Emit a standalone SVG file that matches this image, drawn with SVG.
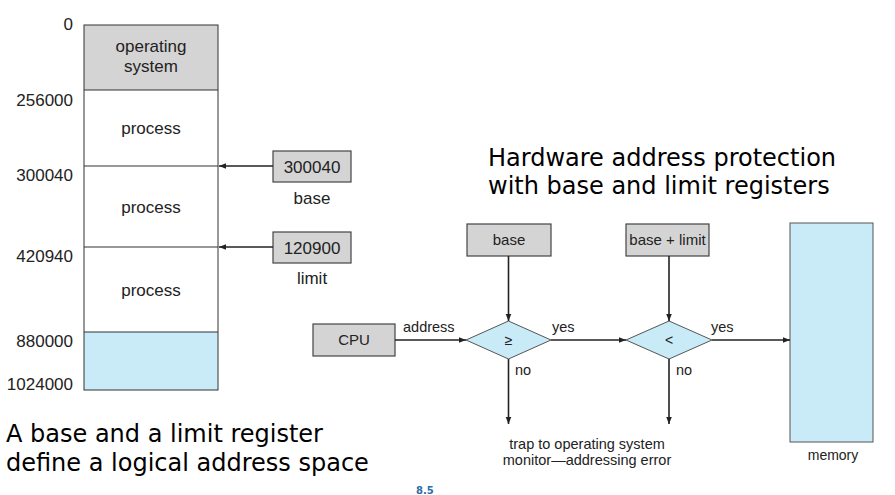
<svg xmlns="http://www.w3.org/2000/svg" width="895" height="495" viewBox="0 0 895 495">
<defs>
<marker id="ah" viewBox="0 0 10 10" refX="10" refY="5" markerWidth="7" markerHeight="7" markerUnits="userSpaceOnUse" orient="auto"><path d="M0,1 L10,5 L0,9 z" fill="#222"/></marker>
<style>
.t{font-family:"Liberation Sans",Arial,sans-serif;fill:#222}
.big{font-family:"DejaVu Sans",Verdana,sans-serif;font-size:24px;fill:#000}
.reg{fill:#d4d4d4;stroke:#444;stroke-width:1.2}
.blue{fill:#c9ebf7;stroke:#555;stroke-width:1}
.ln{stroke:#222;stroke-width:1.6;fill:none}
.thin{stroke:#333;stroke-width:1;fill:none}
</style>
</defs>
<rect width="895" height="495" fill="#fff"/>
<g id="memory-map">
<rect x="84" y="25" width="134" height="65" fill="#d4d4d4"/>
<rect x="84" y="332" width="134" height="58" fill="#c9ebf7"/>
<rect x="84" y="25" width="134" height="365" class="thin"/>
<line x1="84" y1="90" x2="218" y2="90" class="thin"/>
<line x1="84" y1="166" x2="218" y2="166" class="thin"/>
<line x1="84" y1="247" x2="218" y2="247" class="thin"/>
<line x1="84" y1="332" x2="218" y2="332" class="thin"/>
<g class="t" font-size="17" text-anchor="middle">
<text x="151" y="52">operating</text>
<text x="151" y="72">system</text>
<text x="151" y="134">process</text>
<text x="151" y="213">process</text>
<text x="151" y="296">process</text>
</g>
<g class="t" font-size="17" text-anchor="end">
<text x="73" y="30">0</text>
<text x="73" y="106">256000</text>
<text x="73" y="181">300040</text>
<text x="73" y="262">420940</text>
<text x="73" y="347">880000</text>
<text x="73" y="390">1024000</text>
</g>
</g>
<g id="base-register">
<rect x="273" y="151" width="78" height="31" class="reg"/>
<text x="312" y="173" class="t" font-size="17" text-anchor="middle">300040</text>
<text x="312" y="204" class="t" font-size="17" text-anchor="middle">base</text>
</g>
<g id="limit-register">
<rect x="273" y="232" width="78" height="31" class="reg"/>
<text x="312" y="254" class="t" font-size="17" text-anchor="middle">120900</text>
<text x="312" y="284" class="t" font-size="17" text-anchor="middle">limit</text>
</g>
<g id="cpu">
<rect x="313" y="324" width="82" height="32" class="reg"/>
<text x="354" y="345" class="t" font-size="15" text-anchor="middle">CPU</text>
</g>
<g id="base-box">
<rect x="467" y="224" width="84" height="32" class="reg"/>
<text x="509" y="245" class="t" font-size="15" text-anchor="middle">base</text>
</g>
<g id="baselimit-box">
<rect x="626" y="224" width="83" height="32" class="reg"/>
<text x="667.5" y="245" class="t" font-size="15" text-anchor="middle">base + limit</text>
</g>
<g id="cmp-ge">
<polygon points="466,340 508.5,321 551,340 508.5,359" class="blue"/>
<text x="508.5" y="345" class="t" font-size="14" text-anchor="middle">≥</text>
</g>
<g id="cmp-lt">
<polygon points="626,340 669,321 712,340 669,359" class="blue"/>
<text x="669" y="345" class="t" font-size="14" text-anchor="middle">&lt;</text>
</g>
<g id="memory">
<rect x="790" y="223" width="83" height="219" class="blue"/>
<text x="833" y="460" class="t" font-size="14" text-anchor="middle">memory</text>
</g>
<g id="trap">
<text x="587" y="449" class="t" font-size="14.5" text-anchor="middle">trap to operating system</text>
<text x="587" y="465" class="t" font-size="14.5" text-anchor="middle">monitor—addressing error</text>
</g>
<g id="connectors">
<line x1="273" y1="166" x2="219" y2="166" class="ln" marker-end="url(#ah)"/>
<line x1="273" y1="247" x2="219" y2="247" class="ln" marker-end="url(#ah)"/>
<line x1="395" y1="340" x2="466" y2="340" class="ln" marker-end="url(#ah)"/>
<line x1="508.5" y1="256" x2="508.5" y2="321" class="ln" marker-end="url(#ah)"/>
<line x1="551" y1="340" x2="626" y2="340" class="ln" marker-end="url(#ah)"/>
<line x1="669" y1="256" x2="669" y2="321" class="ln" marker-end="url(#ah)"/>
<line x1="712" y1="340" x2="790" y2="340" class="ln" marker-end="url(#ah)"/>
<line x1="508.5" y1="359" x2="508.5" y2="424" class="ln" marker-end="url(#ah)"/>
<line x1="669" y1="359" x2="669" y2="424" class="ln" marker-end="url(#ah)"/>
<g class="t" font-size="14.5">
<text x="403" y="332">address</text>
<text x="552" y="332">yes</text>
<text x="711" y="332">yes</text>
<text x="515" y="375">no</text>
<text x="676" y="375">no</text>
</g>
</g>
<g id="captions">
<text x="488" y="166" class="big">Hardware address protection</text>
<text x="488" y="194" class="big">with base and limit registers</text>
<text x="6" y="442" class="big">A base and a limit register</text>
<text x="6" y="471" class="big">define a logical address space</text>
<text x="416" y="494" font-family="DejaVu Sans,sans-serif" font-size="10" font-weight="bold" fill="#2a6fa8">8.5</text>
</g>
</svg>
